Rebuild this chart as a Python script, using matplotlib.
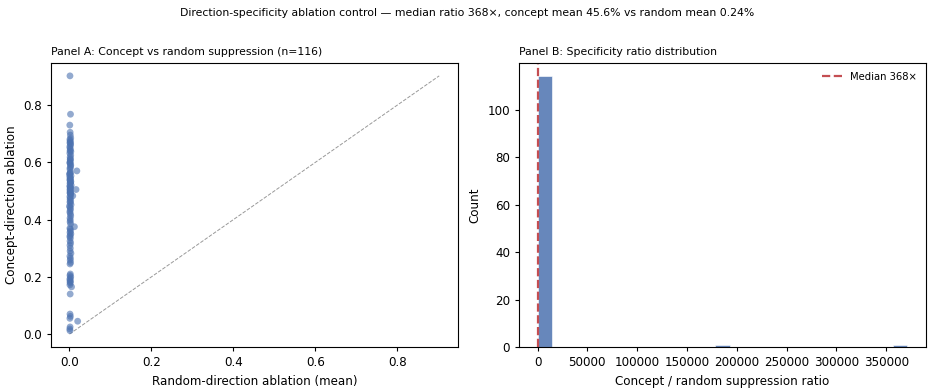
import matplotlib

matplotlib.use("Agg")
import matplotlib.pyplot as plt
import numpy as np

BLUE = "#4C72B0"
RED = "#C44E52"

# concept-direction ablation (y) and random-direction ablation mean (x), per concept
concept_abl = [
    0.902, 0.768, 0.730, 0.705, 0.695, 0.685, 0.680, 0.672, 0.665, 0.655, 0.640, 0.638,
    0.610, 0.605, 0.598, 0.590, 0.580, 0.570, 0.565, 0.560, 0.553, 0.548, 0.542, 0.537,
    0.531, 0.526, 0.520, 0.515, 0.510, 0.505, 0.502, 0.497, 0.492, 0.487, 0.483, 0.480,
    0.476, 0.471, 0.466, 0.462, 0.458, 0.452, 0.447, 0.443, 0.438, 0.432, 0.426, 0.420,
    0.413, 0.405, 0.398,
    0.392, 0.385, 0.375, 0.370, 0.366, 0.360, 0.355, 0.350, 0.345, 0.340, 0.335, 0.325,
    0.318, 0.310, 0.300, 0.290, 0.282, 0.272, 0.265, 0.258, 0.250, 0.245,
    0.210, 0.205, 0.200, 0.195, 0.190, 0.186, 0.182, 0.178, 0.172, 0.165, 0.140, 0.070,
    0.062, 0.055, 0.045, 0.025, 0.018, 0.012,
    0.675, 0.668, 0.660, 0.650, 0.645, 0.632, 0.625, 0.618, 0.612, 0.600, 0.595, 0.585,
    0.575, 0.562, 0.557, 0.545, 0.540, 0.533, 0.528, 0.518, 0.512, 0.507, 0.499, 0.494,
    0.489,
]
random_abl = [
    0.0012, 0.0025, 0.0008, 0.0016, 0.0021, 0.0030, 0.0011, 0.0019, 0.0027, 0.0009, 0.0014, 0.0033,
    0.0017, 0.0022, 0.0010, 0.0031, 0.0013, 0.0180, 0.0024, 0.0015, 0.0036, 0.0009, 0.0020, 0.0012,
    0.0028, 0.0016, 0.0041, 0.0011, 0.0023, 0.0160, 0.0014, 0.0026, 0.0018, 0.0032, 0.0080, 0.0010,
    0.0021, 0.0015, 0.0029, 0.0012, 0.0019, 0.0038, 0.0000024, 0.0013, 0.0025, 0.0017, 0.0009, 0.0022,
    0.0030, 0.0014, 0.0020,
    0.0015, 0.0027, 0.0120, 0.0011, 0.0019, 0.0024, 0.0013, 0.0033, 0.0017, 0.0009, 0.0022, 0.0014,
    0.0028, 0.0012, 0.0020, 0.0016, 0.0035, 0.0010, 0.0023, 0.0018, 0.0026, 0.0013,
    0.0021, 0.0012, 0.0030, 0.0016, 0.0009, 0.0024, 0.0014, 0.0019, 0.0011, 0.0050, 0.0017, 0.0013,
    0.0022, 0.0010, 0.0200, 0.0015, 0.0008, 0.0012,
    0.0018, 0.0011, 0.0026, 0.0014, 0.0021, 0.0009, 0.0030, 0.0016, 0.0023, 0.0012, 0.0019, 0.0027,
    0.0015, 0.0010, 0.0000015, 0.0022, 0.0013, 0.0034, 0.0017, 0.0011, 0.0025, 0.0014, 0.0020, 0.0012,
    0.0029,
]

SUPTITLE = ("Direction-specificity ablation control \u2014 median ratio 368\u00d7, "
            "concept mean 45.6% vs random mean 0.24%")
MEDIAN_LABEL = "Median 368\u00d7"

x = np.array(random_abl)
y = np.array(concept_abl)
ratio = y / x

plt.rcParams["xtick.labelsize"] = 8.6
plt.rcParams["ytick.labelsize"] = 8.6
plt.rcParams["xtick.major.size"] = 3
plt.rcParams["ytick.major.size"] = 3

fig = plt.figure(figsize=(9.34, 3.91), dpi=100)
ax1 = fig.add_axes([0.0546, 0.1125, 0.4354, 0.7265])
ax2 = fig.add_axes([0.5557, 0.1125, 0.4357, 0.7265])

# Panel A
ax1.scatter(x, y, s=24, color=BLUE, alpha=0.6, edgecolors="none", zorder=3)
lim = max(x.max(), y.max())
ax1.plot([0, lim], [0, lim], ls="--", color="#999999", lw=0.7, zorder=2)
ax1.set_xlabel("Random-direction ablation (mean)", fontsize=8.6)
ax1.set_ylabel("Concept-direction ablation", fontsize=8.6)
ax1.set_title(f"Panel A: Concept vs random suppression (n={len(y)})",
              loc="left", fontsize=7.8)

# Panel B
ax2.hist(ratio, bins=25, color=BLUE, alpha=0.85, edgecolor="white", linewidth=0.5)
ax2.axvline(np.median(ratio), color=RED, ls="--", lw=1.6, label=MEDIAN_LABEL)
ax2.set_xlabel("Concept / random suppression ratio", fontsize=8.6)
ax2.set_ylabel("Count", fontsize=8.6)
ax2.set_title("Panel B: Specificity ratio distribution", loc="left", fontsize=7.8)
ax2.legend(loc="upper right", frameon=False, fontsize=7.2)

fig.suptitle(SUPTITLE, fontsize=7.8, y=0.98)

fig.savefig("out.png", dpi=100, facecolor="white")
